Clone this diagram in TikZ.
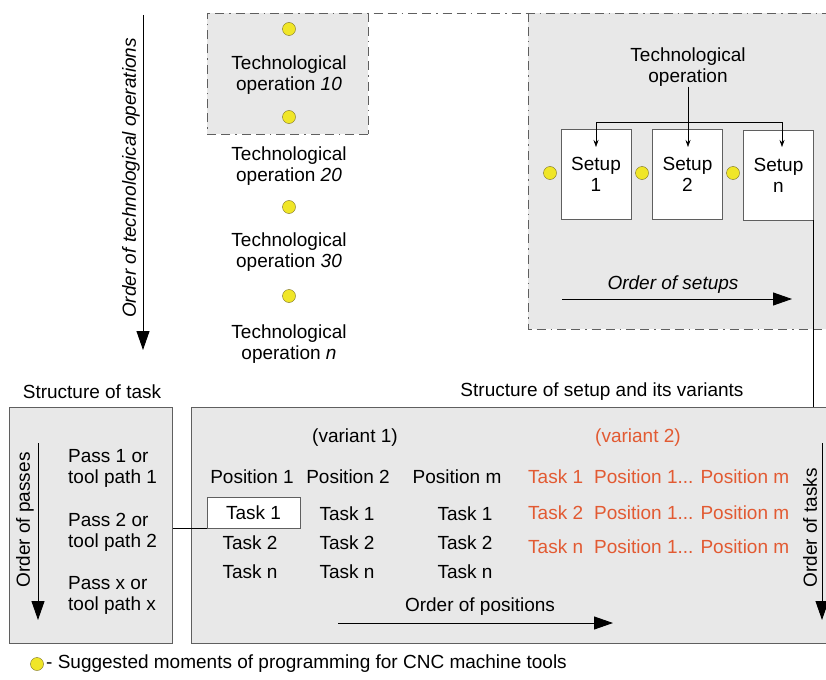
\documentclass[tikz,border=0pt]{standalone}
\usepackage{fontspec}
\setmainfont{Liberation Sans}
\usetikzlibrary{arrows.meta}
\definecolor{boxgray}{RGB}{232,232,232}
\definecolor{framegray}{RGB}{95,95,95}
\definecolor{dotyellow}{RGB}{240,230,40}
\definecolor{dotedge}{RGB}{120,110,30}
\definecolor{varred}{RGB}{226,90,50}
\newcommand{\figfont}{\fontsize{19}{21}\selectfont}

\begin{document}
\begin{tikzpicture}
            [x=1pt,y=-1pt,font=\figfont,
             Dot/.style={circle,draw=dotedge,fill=dotyellow,minimum size=13pt,inner sep=0pt},
             Txt/.style={align=center,inner sep=0pt},
             Var/.style={text=varred,inner sep=0pt},
             Setup/.style={draw=framegray,fill=white,minimum width=70pt,minimum height=90pt,align=center,inner sep=0pt},
             Frame/.style={draw=framegray,fill=boxgray,line width=1pt,inner sep=0pt},
             DashDot/.style={draw=framegray,line width=0.8pt,dash pattern=on 9pt off 5pt on 9pt off 5pt on 1.5pt off 5pt},
             Big/.style={-{Triangle[length=19pt,width=13pt]},line width=0.9pt},
             Small/.style={-{Stealth[length=7pt,width=5pt]},line width=0.6pt}]
            \clip (0,0) rectangle (826,679);
            \fill[white] (0,0) rectangle (826,679);
            % order of operations
            \fill[boxgray] (207,13) rectangle (368,134);
            \fill[boxgray] (528,13) rectangle (840,329);
            \draw[DashDot] (368,134) -- (207,134) -- (207,13) -- (840,13);
            \draw[DashDot] (368,13) -- (368,134);
            \draw[DashDot] (528,13) -- (528,329) -- (840,329);
            \draw[Big] (143,15) -- (143,350);
            \node[Txt,rotate=90,font=\figfont\itshape] (ordops) at (131,178) {Order of technological operations};
            \node[Dot] (d1) at (289,29) {};
            \node[Txt] (op10) at (289,75.5) {Technological\\operation \textit{10}};
            \node[Dot] (d2) at (289,117) {};
            \node[Txt] (op20) at (289,166.5) {Technological\\operation \textit{20}};
            \node[Dot] (d3) at (289,207) {};
            \node[Txt] (op30) at (289,252.5) {Technological\\operation \textit{30}};
            \node[Dot] (d4) at (289,296) {};
            \node[Txt] (opn) at (289,344) {Technological\\operation \textit{n}};
            % setups
            \node[Txt] (tecop) at (688,67) {Technological\\operation};
            \node[Setup] (s1) at (596,174) {Setup\\1};
            \node[Setup] (s2) at (687.5,174) {Setup\\2};
            \node[Setup] (sn) at (778.5,175) {Setup\\n};
            \node[Dot] (e1) at (550,173) {};
            \node[Dot] (e2) at (642,173) {};
            \node[Dot] (e3) at (733,173) {};
            \coordinate (fork) at (688,122);
            \coordinate (a1) at (596,147);
            \coordinate (a2) at (688,147);
            \coordinate (an) at (782,147);
            \draw[Small] (tecop) -- (a2);
            \draw[Small] (fork) -| (a1);
            \draw[Small] (fork) -| (an);
            \node[Txt,font=\figfont\itshape] (ordset) at (673,285) {Order of setups};
            \draw[Big] (562,299) -- (792,299);
            % task and setup structure
            \node[Txt] (sttask) at (92,392) {Structure of task};
            \node[Txt] (stset) at (602,392) {Structure of setup and its variants};
            \node[Frame,minimum width=163pt,minimum height=236pt] (task) at (90.5,525) {};
            \node[Frame,minimum width=649pt,minimum height=236pt] (var) at (515.5,525) {};
            \draw[line width=0.8pt] (sn.south east) -- (sn.south east |- var.north);
            \draw[Big] (38,443) -- (38,620);
            \node[Txt,rotate=90] (ordpass) at (25,520) {Order of passes};
            \node[Txt,align=left,anchor=west] (p1) at (68,468.5) {Pass 1 or\\tool path 1};
            \node[Txt,align=left,anchor=west] (p2) at (68,532.5) {Pass 2 or\\tool path 2};
            \node[Txt,align=left,anchor=west] (px) at (68,595) {Pass x or\\tool path x};
            \node[Txt] (var1) at (355,438) {(variant 1)};
            \node[Txt] (pos1) at (252,477) {Position 1};
            \node[Txt] (pos2) at (348,477) {Position 2};
            \node[Txt] (posm) at (457,477) {Position m};
            \node[draw=framegray,fill=white,minimum width=93pt,minimum height=31pt,inner sep=0pt] (t11) at (253.5,512.5) {Task 1};
            \node[Txt] (t21) at (250,543) {Task 2};
            \node[Txt] (tn1) at (250,572) {Task n};
            \node[Txt] (t12) at (347,514) {Task 1};
            \node[Txt] (t22) at (347,543) {Task 2};
            \node[Txt] (tn2) at (347,572) {Task n};
            \node[Txt] (t1m) at (465,514) {Task 1};
            \node[Txt] (t2m) at (465,543) {Task 2};
            \node[Txt] (tnm) at (465,572) {Task n};
            \draw[line width=0.8pt] (task.east |- t11.south west) -- (t11.south west);
            \node[Txt] (ordpos) at (480,607) {Order of positions};
            \draw[Big] (338,623) -- (613,623);
            \node[Var] (var2) at (638,438) {(variant 2)};
            \node[Var,anchor=west] (v2a) at (528,477) {Task 1};
            \node[Var,anchor=west] (v2b) at (528,513) {Task 2};
            \node[Var,anchor=west] (v2c) at (528,547) {Task n};
            \node[Var,anchor=west] (v2pa) at (594,477) {Position 1... Position m};
            \node[Var,anchor=west] (v2pb) at (594,513) {Position 1... Position m};
            \node[Var,anchor=west] (v2pc) at (594,547) {Position 1... Position m};
            \node[Txt,rotate=90] (ordtask) at (810,528) {Order of tasks};
            \draw[Big] (822,443) -- (822,620);
            % legend
            \node[Dot] (leg) at (37,664) {};
            \node[Txt,anchor=west] (legtxt) at (46,664) {- Suggested moments of programming for CNC machine tools};
        \end{tikzpicture}
\end{document}
